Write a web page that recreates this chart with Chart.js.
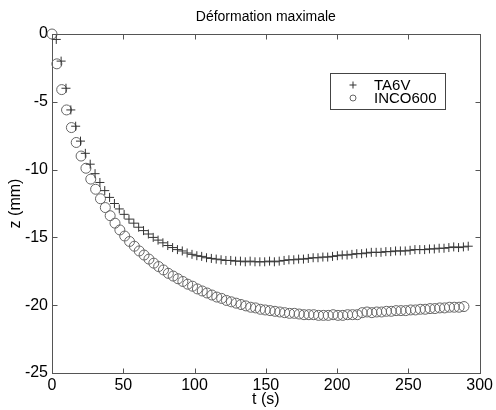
<!DOCTYPE html>
<html><head><meta charset="utf-8">
<script src="https://cdn.jsdelivr.net/npm/chart.js@4/dist/chart.umd.min.js"></script>
<style>html,body{margin:0;padding:0;background:#fff;}#wrap{width:496px;height:410px;}</style>
</head><body><div id="wrap"><canvas id="c" width="496" height="410"></canvas></div>
<script>
const chartTitle = "Déformation maximale";
const xTitle = "t (s)";
const yTitle = "z (mm)";
const seriesNames = ["TA6V", "INCO600"];
const xTicks = [0, 50, 100, 150, 200, 250, 300];
const yTicks = [0, -5, -10, -15, -20, -25];

const tInco = [0,3.4,6.8,10.2,13.6,17,20.4,23.8,27.2,30.6,34,37.4,40.8,44.2,47.6,51,54.4,57.8,61.2,64.6,68,71.4,74.8,78.2,81.6,85,88.4,91.8,95.2,98.6,102,105.4,108.8,112.2,115.6,119,122.4,125.8,129.2,132.6,136,139.4,142.8,146.2,149.6,153,156.4,159.8,163.2,166.6,170,173.4,176.8,180.2,183.6,187,190.4,193.8,197.2,200.6,204,207.4,210.8,214.2,217.6,221,224.4,227.8,231.2,234.6,238,241.4,244.8,248.2,251.6,255,258.4,261.8,265.2,268.6,272,275.4,278.8,282.2,285.6,289];
const zInco = [0,-2.2,-4.1,-5.6,-6.9,-8.0,-9.0,-9.9,-10.7,-11.45,-12.15,-12.8,-13.4,-13.95,-14.45,-14.9,-15.3,-15.65,-16.0,-16.3,-16.6,-16.9,-17.15,-17.4,-17.65,-17.85,-18.05,-18.25,-18.45,-18.6,-18.8,-18.95,-19.1,-19.25,-19.4,-19.5,-19.65,-19.75,-19.85,-19.95,-20.05,-20.15,-20.2,-20.3,-20.35,-20.4,-20.45,-20.5,-20.55,-20.6,-20.6,-20.65,-20.7,-20.7,-20.7,-20.75,-20.75,-20.75,-20.7,-20.75,-20.75,-20.7,-20.7,-20.7,-20.55,-20.5,-20.55,-20.5,-20.5,-20.45,-20.45,-20.4,-20.4,-20.4,-20.35,-20.35,-20.3,-20.3,-20.25,-20.25,-20.2,-20.2,-20.15,-20.15,-20.15,-20.1];

const tTa6v = [3,6.4,9.8,13.2,16.6,20,23.4,26.8,30.2,33.6,37,40.4,43.8,47.2,50.6,54,57.4,60.8,64.2,67.6,71,74.4,77.8,81.2,84.6,88,91.4,94.8,98.2,101.6,105,108.4,111.8,115.2,118.6,122,125.4,128.8,132.2,135.6,139,142.4,145.8,149.2,152.6,156,159.4,162.8,166.2,169.6,173,176.4,179.8,183.2,186.6,190,193.4,196.8,200.2,203.6,207,210.4,213.8,217.2,220.6,224,227.4,230.8,234.2,237.6,241,244.4,247.8,251.2,254.6,258,261.4,264.8,268.2,271.6,275,278.4,281.8,285.2,288.6,292];
const zTa6v = [-0.4,-2.0,-4.0,-5.6,-6.8,-7.9,-8.8,-9.6,-10.3,-10.95,-11.55,-12.05,-12.5,-12.9,-13.3,-13.65,-13.95,-14.25,-14.5,-14.75,-15.0,-15.2,-15.4,-15.6,-15.75,-15.9,-16.0,-16.15,-16.25,-16.35,-16.4,-16.5,-16.55,-16.6,-16.65,-16.7,-16.7,-16.75,-16.75,-16.8,-16.75,-16.8,-16.8,-16.8,-16.75,-16.8,-16.75,-16.7,-16.65,-16.65,-16.6,-16.6,-16.55,-16.5,-16.5,-16.45,-16.45,-16.4,-16.35,-16.3,-16.3,-16.25,-16.2,-16.2,-16.15,-16.1,-16.1,-16.1,-16.05,-16.05,-16.0,-16.0,-16.0,-15.95,-15.9,-15.9,-15.9,-15.85,-15.85,-15.8,-15.8,-15.75,-15.7,-15.75,-15.7,-15.65];

const FONT = 'Arial, "Liberation Sans", sans-serif';
const pts = (xs, ys) => xs.map((v, i) => ({x: v, y: ys[i]}));

const centerTitle = {
  id: 'centerTitle',
  afterLayout(chart) {
    const tb = chart.titleBlock, a = chart.chartArea;
    if (tb && a) { tb.left = a.left; tb.right = a.right; tb.width = a.right - a.left; }
  }
};

const frame = {
  id: 'frame',
  beforeDatasetsDraw(chart) {
    const {ctx, chartArea: a, scales: {x, y}} = chart;
    const L = Math.round(a.left) + 0.5, R = Math.round(a.right) + 0.5;
    const T = Math.round(a.top) + 0.5, B = Math.round(a.bottom) + 0.5;
    ctx.save();
    ctx.strokeStyle = '#555'; ctx.lineWidth = 1;
    ctx.strokeRect(L, T, R - L, B - T);
    ctx.beginPath();
    x.ticks.forEach(t => {
      const px = Math.round(x.getPixelForValue(t.value)) + 0.5;
      ctx.moveTo(px, B); ctx.lineTo(px, B - 5);
      ctx.moveTo(px, T); ctx.lineTo(px, T + 5);
    });
    y.ticks.forEach(t => {
      const py = Math.round(y.getPixelForValue(t.value)) + 0.5;
      ctx.moveTo(L, py); ctx.lineTo(L + 5, py);
      ctx.moveTo(R, py); ctx.lineTo(R - 5, py);
    });
    ctx.stroke();
    ctx.restore();
  }
};

const legendBox = {
  id: 'legendBox',
  afterDraw(chart) {
    const {ctx} = chart;
    const x0 = 330, y0 = 73, w = 115, h = 36;
    ctx.save();
    ctx.fillStyle = '#fff';
    ctx.fillRect(x0, y0, w, h);
    ctx.strokeStyle = '#444'; ctx.lineWidth = 1;
    ctx.strokeRect(x0 + 0.5, y0 + 0.5, w, h);
    const ds = chart.data.datasets;
    const rows = [85, 98];
    ds.forEach((d, i) => {
      const cy = rows[i], cx = 353;
      ctx.strokeStyle = d.borderColor; ctx.lineWidth = 1;
      ctx.beginPath();
      if (d.pointStyle === 'cross') {
        ctx.moveTo(cx - 3.5, cy); ctx.lineTo(cx + 3.5, cy);
        ctx.moveTo(cx, cy - 3.5); ctx.lineTo(cx, cy + 3.5);
      } else {
        ctx.arc(cx, cy, 3, 0, Math.PI * 2);
      }
      ctx.stroke();
      ctx.fillStyle = '#000';
      ctx.font = '15px ' + FONT;
      ctx.textBaseline = 'middle';
      ctx.textAlign = 'left';
      ctx.fillText(d.label, 374, cy + 0.5);
    });
    ctx.restore();
  }
};

new Chart(document.getElementById('c'), {
  type: 'scatter',
  data: {
    datasets: [
      {label: seriesNames[0], data: pts(tTa6v, zTa6v), pointStyle: 'cross', pointRadius: 4.5,
       borderColor: '#333', backgroundColor: 'transparent', pointBorderWidth: 1, showLine: false, clip: false},
      {label: seriesNames[1], data: pts(tInco, zInco), pointStyle: 'circle', pointRadius: 5,
       borderColor: '#666', backgroundColor: 'transparent', pointBorderWidth: 1, showLine: false, clip: false}
    ]
  },
  options: {
    responsive: false,
    animation: false,
    devicePixelRatio: 1,
    layout: {padding: {left: 0, right: 14, top: 0, bottom: 0}},
    plugins: {
      legend: {display: false},
      tooltip: {enabled: false},
      title: {display: true, text: chartTitle, color: '#000',
        font: {family: FONT, size: 14, weight: 'normal'}, padding: {top: 9, bottom: 8.2}}
    },
    scales: {
      x: {
        type: 'linear', min: 0, max: 300,
        afterBuildTicks: s => { s.ticks = xTicks.map(v => ({value: v})); },
        afterFit: s => { s.height = 37; },
        grid: {display: false, drawTicks: false},
        border: {display: false},
        ticks: {color: '#000', font: {family: FONT, size: 16}, padding: 3, maxRotation: 0,
          callback: v => String(v)},
        title: {display: true, text: xTitle, color: '#000', font: {family: FONT, size: 16}, padding: {top: 0, bottom: 1}}
      },
      y: {
        type: 'linear', min: -25, max: 0,
        afterBuildTicks: s => { s.ticks = yTicks.map(v => ({value: v})); },
        afterFit: s => { s.width = 52; },
        grid: {display: false, drawTicks: false},
        border: {display: false},
        ticks: {color: '#000', font: {family: FONT, size: 16}, padding: 4,
          callback: v => String(v)},
        title: {display: true, text: yTitle, color: '#000', font: {family: FONT, size: 16}, padding: {top: 6, bottom: 0}}
      }
    }
  },
  plugins: [centerTitle, frame, legendBox]
});
</script>
</body></html>
